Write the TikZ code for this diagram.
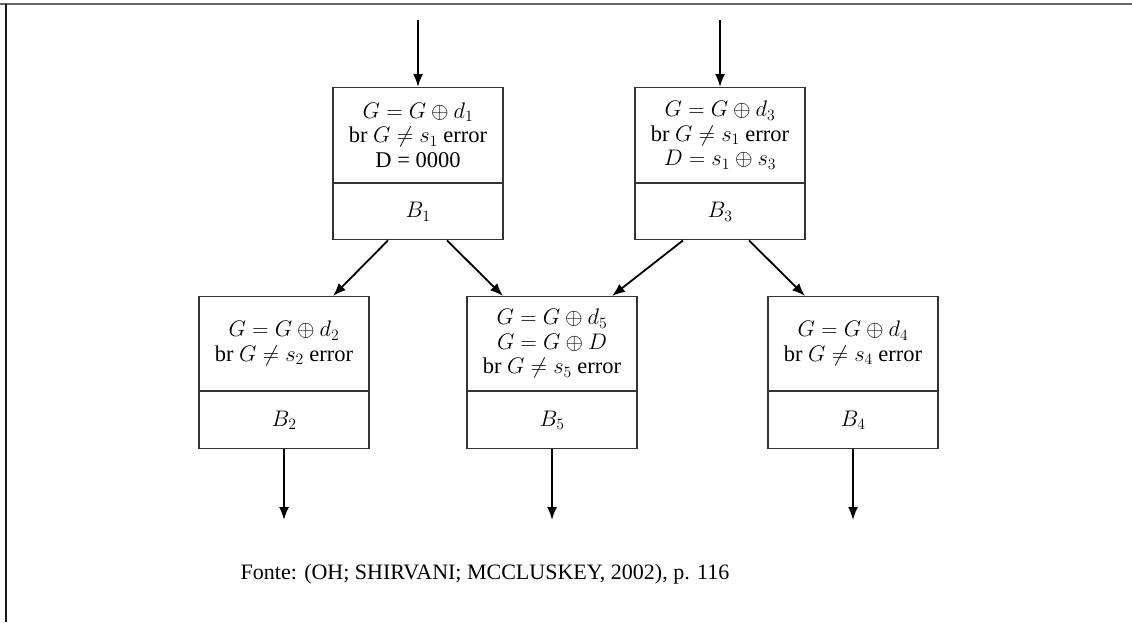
\RequirePackage{fix-cm}
\documentclass[tikz,border=0pt]{standalone}
\usepackage[no-math]{fontspec}
\setmainfont{Liberation Serif}
\usetikzlibrary{arrows.meta,calc}

\tikzset{
  blocktop/.style={draw=black!80, line width=1.2pt, minimum width=170pt,
    minimum height=95pt, inner sep=0pt, align=center, anchor=north,
    font=\fontsize{22.5}{24.5}\selectfont},
  blockbot/.style={draw=black!80, line width=1.2pt, minimum width=170pt,
    minimum height=56pt, inner sep=0pt, anchor=north,
    font=\fontsize{22.5}{24.5}\selectfont},
  flow/.style={line width=1.8pt, -{Latex[length=13pt,width=10pt]}}
}

\begin{document}
\begin{tikzpicture}[x=1pt, y=-1pt]
  \useasboundingbox (0,0) rectangle (1132,622);

  % page frame
  \draw[black!60, line width=1.6pt] (0,4) -- (1132,4);
  \draw[black!90, line width=1.6pt] (6,4) -- (6,622);

  % upper blocks
  \node[blocktop] (b1t) at (418,87) {$G = G \oplus d_1$\\ br $G \neq s_1$ error\\ D = 0000};
  \node[blockbot] (b1) at (b1t.south) {$B_1$};
  \node[blocktop] (b3t) at (720,87) {$G = G \oplus d_3$\\ br $G \neq s_1$ error\\ $D = s_1 \oplus s_3$};
  \node[blockbot] (b3) at (b3t.south) {$B_3$};

  % lower blocks
  \node[blocktop, minimum height=94pt] (b2t) at (284,296) {$G = G \oplus d_2$\\ br $G \neq s_2$ error};
  \node[blockbot, minimum height=57pt] (b2) at (b2t.south) {$B_2$};
  \node[blocktop, minimum height=94pt] (b5t) at (552,296) {$G = G \oplus d_5$\\ $G = G \oplus D$\\ br $G \neq s_5$ error};
  \node[blockbot, minimum height=57pt] (b5) at (b5t.south) {$B_5$};
  \node[blocktop, minimum height=94pt] (b4t) at (853,296) {$G = G \oplus d_4$\\ br $G \neq s_4$ error};
  \node[blockbot, minimum height=57pt] (b4) at (b4t.south) {$B_4$};

  % entries and exits
  \coordinate (in1) at (418,20);
  \coordinate (in3) at (720,20);
  \coordinate (out2) at (284,520);
  \coordinate (out5) at (552,520);
  \coordinate (out4) at (853,520);

  \draw[flow] (in1) -- (b1t.north);
  \draw[flow] (in3) -- (b3t.north);
  \draw[flow] (b2.south) -- (out2);
  \draw[flow] (b5.south) -- (out5);
  \draw[flow] (b4.south) -- (out4);

  % branches between the rows
  \draw[flow] ($(b1.south)+(-30,0)$) -- ($(b2t.north)+(49,0)$);
  \draw[flow] ($(b1.south)+(29,0)$) -- ($(b5t.north)+(-49,0)$);
  \draw[flow] ($(b3.south)+(-37,0)$) -- ($(b5t.north)+(60,0)$);
  \draw[flow] ($(b3.south)+(29,0)$) -- ($(b4t.north)+(-48,0)$);

  % source line
  \node[font=\fontsize{22}{26}\selectfont, anchor=base] (src) at (485,579)
    {Fonte: (OH; SHIRVANI; MCCLUSKEY, 2002), p. 116};
\end{tikzpicture}
\end{document}
